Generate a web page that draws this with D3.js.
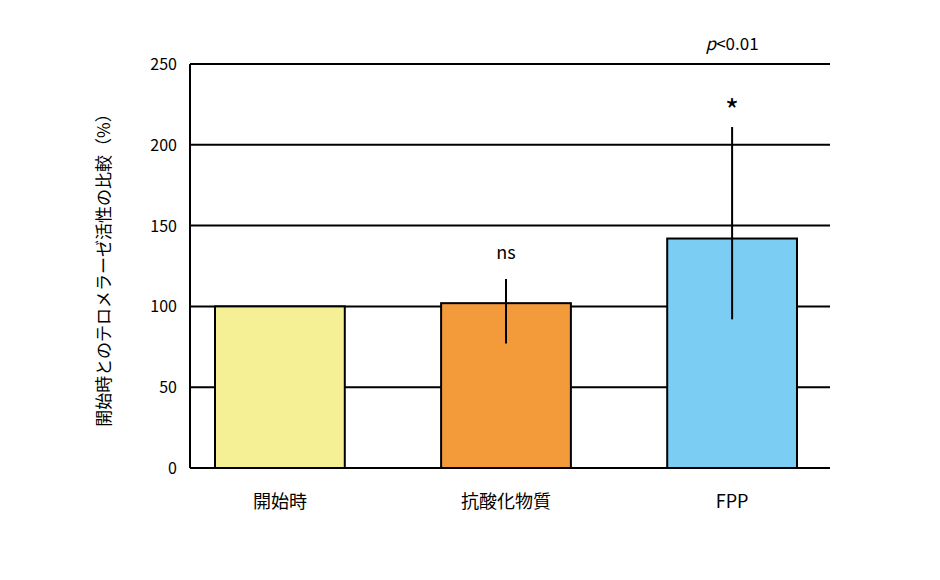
<!DOCTYPE html>
<html><head><meta charset="utf-8">
<script src="https://cdn.jsdelivr.net/npm/d3@7"></script>
<style>body{margin:0;background:#fff}text{font-family:"Noto Sans CJK JP",Arial,sans-serif}</style>
</head><body><div id="chart"></div>
<script>
var categories = ['開始時', '抗酸化物質', 'FPP'];
var values = [100, 102, 142];
var errLow = [null, 77, 92];
var errHigh = [null, 117, 211];
var marks = ['', 'ns', '*'];
var colors = ['#f5ef96', '#f39a3a', '#7ccdf3'];
var yTicks = [0, 50, 100, 150, 200, 250];

var chart_width = 940, chart_height = 580;
var mLeft = 190, mRight = 830, mTop = 64, mBottom = 468;

var svg = d3.select('#chart').append('svg')
    .attr('width', chart_width).attr('height', chart_height);

var x = d3.scaleBand().domain(categories).range([215, 797]).paddingInner(0.426).paddingOuter(0);
var y = d3.scaleLinear().domain([0, 250]).range([mBottom, mTop]);

// gridlines
svg.selectAll('.grid').data(yTicks).enter().append('line')
    .attr('x1', mLeft).attr('x2', mRight)
    .attr('y1', function(d){ return y(d); }).attr('y2', function(d){ return y(d); })
    .attr('stroke', '#000').attr('stroke-width', 2);

svg.append('line').attr('x1', mLeft).attr('x2', mLeft).attr('y1', mTop).attr('y2', mBottom)
    .attr('stroke', '#000').attr('stroke-width', 2);

svg.selectAll('.tick').data(yTicks).enter().append('text')
    .attr('x', mLeft - 13).attr('y', function(d){ return y(d) + 6; })
    .attr('text-anchor', 'end').attr('font-size', 16)
    .attr('font-family', 'Arial, sans-serif').text(function(d){ return d; });

// bars
svg.selectAll('.bar').data(values).enter().append('rect')
    .attr('x', function(d, i){ return x(categories[i]); })
    .attr('width', x.bandwidth())
    .attr('y', function(d){ return y(d); })
    .attr('height', function(d){ return y(0) - y(d); })
    .attr('fill', function(d, i){ return colors[i]; })
    .attr('stroke', '#000').attr('stroke-width', 2);

// error bars
categories.forEach(function(c, i){
    if (errLow[i] === null) return;
    var cx = x(c) + x.bandwidth() / 2;
    svg.append('line').attr('x1', cx).attr('x2', cx)
        .attr('y1', y(errLow[i])).attr('y2', y(errHigh[i]))
        .attr('stroke', '#000').attr('stroke-width', 2);
    svg.append('text').attr('x', cx).attr('y', i === 2 ? y(errHigh[i]) - 5 : y(errHigh[i]) - 20)
        .attr('text-anchor', 'middle').attr('font-size', i === 2 ? 30 : 18)
        .attr('font-family', 'Arial, sans-serif').text(marks[i]);
});

var fx = x('FPP') + x.bandwidth() / 2;
var pt = svg.append('text').attr('x', fx).attr('y', 50).attr('text-anchor', 'middle')
    .attr('font-size', 17).attr('font-family', 'Arial, sans-serif');
pt.append('tspan').attr('font-style', 'italic').text('p');
pt.append('tspan').text('<0.01');

// x labels
svg.selectAll('.xl').data(categories).enter().append('text')
    .attr('x', function(d){ return x(d) + x.bandwidth() / 2; })
    .attr('y', 508).attr('text-anchor', 'middle').attr('font-size', 18)
    .text(function(d){ return d; });

svg.append('text').attr('transform', 'translate(110,266) rotate(-90)')
    .attr('text-anchor', 'middle').attr('font-size', 17)
    .text('開始時とのテロメラーゼ活性の比較（%）');
</script></body></html>
